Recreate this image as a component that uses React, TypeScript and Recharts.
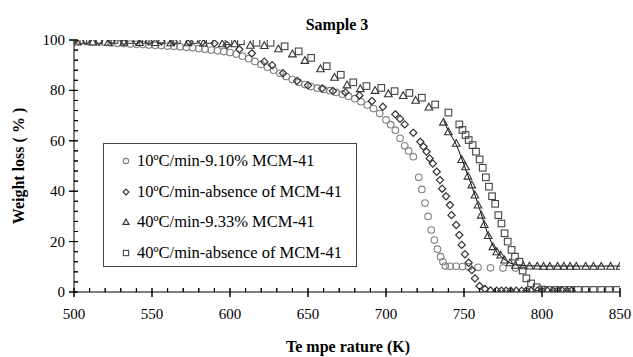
import React from 'react';
import { ComposedChart, Scatter, Line, XAxis, YAxis, Legend, Customized } from 'recharts';

// Temperature (K) and weight (%)
const circles10Mcm: [number, number][] = [
  [500,99.6],[504,99.5],[508,99.4],[512,99.2],[516,99.1],[520,99.0],[524,98.8],[528,98.7],[532,98.6],[536,98.4],
  [540,98.3],[544,98.2],[548,98.0],[552,97.9],[556,97.8],[560,97.6],[564,97.5],[568,97.3],[572,97.1],[576,96.9],
  [580,96.6],[584,96.3],[588,96.0],[592,95.7],[596,95.4],[600,95.0],[604,94.4],[608,93.6],[612,92.6],[616,91.5],
  [620,90.3],[624,89.2],[628,88.0],[632,86.8],[636,85.5],[640,84.3],[644,83.2],[648,82.3],[652,81.5],[656,80.9],
  [660,80.4],[664,79.9],[668,79.2],[672,78.5],[676,77.7],[680,76.7],[684,75.5],[688,74.2],[692,72.8],[696,70.8],
  [700,68.3],[703,66.4],[706,64.2],[709,61.0],[712,58.0],[714.5,56.0],[717.5,53.7],[721,45.5],[723,40.7],[725,35.3],
  [727,30.0],[729,24.6],[731,20.6],[733,17.0],[735,14.0],[736.5,12.0],[738,10.3],[741,10.2],[745,10.2],[749,10.1],
  [753,10.0],[759,9.8],[767,9.6],[775,9.5],[783,9.5],
];

const diamonds10Abs: [number, number][] = [
  [500,99.8],[508,99.7],[516,99.6],[524,99.6],[532,99.5],[540,99.5],[548,99.4],[556,99.4],[564,99.3],[574,99.3],
  [582,99.2],[590,98.7],[598,98.0],[606,96.3],[614,94.7],[622,91.4],[627,90.0],[634,86.8],[643,83.8],[650,82.0],
  [659,80.8],[666,79.8],[674,79.2],[683,78.0],[691,75.8],[698,73.5],[706,70.5],[709,68.7],[712,66.5],[717.5,63.2],
  [722,59.6],[724,57.7],[726,55.7],[728,53.0],[730,51.0],[732.5,47.7],[734.6,44.4],[736,41.0],[738.5,38.0],[741,34.5],
  [742,30.5],[745,26.6],[747,22.6],[748.5,18.7],[750.6,15.0],[753,11.6],[755,8.7],[757,5.4],[760,2.4],[763.5,1.2],
  [767,0.6],[771,0.5],[774,0.5],[777,0.5],[780,0.5],[783.5,0.5],[787,0.5],[790,0.5],[793,0.5],[797,0.5],
  [800,0.5],[803.5,0.5],[807,0.5],[810,0.5],[813,0.5],[816,0.5],[819,0.5],
];

const triangles40Mcm: [number, number][] = [
  [502,99.2],[512,99.2],[522,99.1],[532,99.1],[542,99.0],[552,99.0],[562,98.9],[573,98.9],[583,98.8],[595,98.5],
  [603,98.5],[613,97.9],[622,97.8],[631,96.5],[640,94.5],[648,91.9],[658,88.6],[667,85.2],[675,82.2],[683.5,80.7],
  [693,80.0],[701.5,78.7],[711,78.0],[719,76.1],[727.5,73.4],[736.8,67.4],[740,63.6],[745,59.0],[748.5,52.6],[751,49.7],
  [752.5,46.0],[755,42.5],[757,38.5],[759,34.5],[761,30.5],[763,26.8],[765.5,22.4],[768.5,18.0],[771,16.0],[773.5,14.7],
  [776,12.7],[779.5,11.6],[783,10.6],[788,10.4],[792,10.3],[797,10.3],[801,10.2],[805,10.2],[810,10.2],[814,10.2],
  [818,10.2],[822,10.2],[828,10.2],[833,10.2],[838,10.2],[844,10.2],[850,10.2],
];

const squares40Abs: [number, number][] = [
  [506,100],[516,100],[526,100],[536,100],[546,100],[556,100],[566,100],[577,100],[587,100],[599,99.5],
  [607,99.5],[617,98.9],[626,98.9],[635,97.5],[644,95.5],[652,92.9],[662,89.6],[671,86.2],[679,83.2],[687.5,81.7],
  [697,81.0],[705.5,79.7],[715,79.0],[723,77.1],[731.5,74.4],[740,71.2],[747,66.5],[749,64.3],[751,62.3],[753,60.3],
  [755.5,58.3],[757.7,55.7],[760,52.6],[762,49.3],[764,45.5],[766,41.8],[768,38.0],[770,35.0],[772,30.5],[774,27.2],
  [776,23.3],[778,20.0],[780.5,16.7],[782.7,14.0],[785.5,12.0],[787.6,8.5],[790,5.4],[793,3.4],[796.6,1.9],[800,1.0],
  [804,0.8],[809,0.8],[814,0.8],[818,0.8],[823,0.8],[828,0.8],[833,0.8],[838,0.8],[843,0.8],[848,0.8],
];

const fitLine40Mcm: [number, number][] = [
  [737,68],[740,64],[745,58.5],[750,50.5],[755,42],[760,33],[765,23.5],[770,16.8],[775,13.4],[780,11.4],
  [785,10.7],[790,10.4],[800,10.3],[850,10.3],
];

const seriesNames = [
  '10ºC/min-9.10% MCM-41',
  '10ºC/min-absence of MCM-41',
  '40ºC/min-9.33% MCM-41',
  '40ºC/min-absence of MCM-41',
];

const xTicks = [500,510,520,530,540,550,560,570,580,590,600,610,620,630,640,650,660,670,680,690,700,710,720,730,740,750,760,770,780,790,800,810,820,830,840,850];
const yTicks = [0,4,8,12,16,20,24,28,32,36,40,44,48,52,56,60,64,68,72,76,80,84,88,92,96,100];

const toRows = (pts: [number, number][]) => pts.map(([t, w]) => ({ t, w }));
const rowsC = toRows(circles10Mcm);
const rowsD = toRows(diamonds10Abs);
const rowsT = toRows(triangles40Mcm);
const rowsS = toRows(squares40Abs);
const rowsFit = toRows(fitLine40Mcm);

const FONT = '"Liberation Serif", "Times New Roman", serif';
const COLORS = ['#808080', '#333333', '#333333', '#444444'];

// chart geometry
const W = 633, H = 357;
const M = { top: 40, right: 13, bottom: 35, left: 14 };
const Y_AXIS_W = 60, X_AXIS_H = 30;
const PL = M.left + Y_AXIS_W, PR = W - M.right, PT = M.top, PB = H - M.bottom - X_AXIS_H;
const X_DOMAIN = [500, 850], Y_DOMAIN = [0, 100];

function Marker({ kind, cx, cy, s = 1 }: { kind: number; cx: number; cy: number; s?: number }) {
  const c = COLORS[kind];
  if (kind === 0) return <circle cx={cx} cy={cy} r={3.3 * s} fill="none" stroke={c} strokeWidth={1.1} />;
  if (kind === 1) {
    const h = 3.6 * s;
    return <polygon points={`${cx},${cy - h} ${cx + h},${cy} ${cx},${cy + h} ${cx - h},${cy}`} fill="none" stroke={c} strokeWidth={1.2} />;
  }
  if (kind === 2) {
    const w = 3.8 * s;
    return <polygon points={`${cx},${cy - 3.8 * s} ${cx + w},${cy + 3 * s} ${cx - w},${cy + 3 * s}`} fill="none" stroke={c} strokeWidth={1.1} />;
  }
  const h = 3.3 * s;
  return <rect x={cx - h} y={cy - h} width={2 * h} height={2 * h} fill="none" stroke={c} strokeWidth={1.1} />;
}

const makeShape = (kind: number) => (props: any) => {
  if (props.cx == null || props.cy == null) return <g />;
  return <Marker kind={kind} cx={props.cx} cy={props.cy} />;
};
const shapeC = makeShape(0);
const shapeD = makeShape(1);
const shapeT = makeShape(2);
const shapeS = makeShape(3);

const XTick = (props: any) => {
  const { x, y, payload } = props;
  const v = payload.value;
  const major = v % 50 === 0;
  return (
    <g>
      <path d={`M${x},${y - 4}L${x},${major ? y + 5 : y}`} stroke="#000" strokeWidth={1} fill="none" />
      {major && (
        <text x={x} y={y + 27} textAnchor="middle" fontFamily={FONT} fontSize={15} fill="#000">{v}</text>
      )}
    </g>
  );
};

const YTick = (props: any) => {
  const { x, y, payload } = props;
  const v = payload.value;
  const major = v % 20 === 0;
  return (
    <g>
      <path d={`M${major ? x - 5 : x},${y}L${x + 4},${y}`} stroke="#000" strokeWidth={1} fill="none" />
      {major && (
        <text x={x - 9} y={y + 5} textAnchor="end" fontFamily={FONT} fontSize={15} fill="#000">{v}</text>
      )}
    </g>
  );
};

const LegendBox = () => (
  <div style={{ width: 254, height: 124, border: '1px solid #444', boxSizing: 'border-box', background: '#fff', position: 'relative' }}>
    {seriesNames.map((name, i) => {
      const cy = 17 + i * 30.5;
      return (
        <div key={name} style={{ position: 'absolute', left: 0, top: cy - 12, height: 24, width: 250 }}>
          <svg width={30} height={24} style={{ position: 'absolute', left: 0, top: 0 }}>
            <Marker kind={i} cx={22} cy={12} s={0.8} />
          </svg>
          <span style={{ position: 'absolute', left: 33, top: 2, fontFamily: FONT, fontSize: 16.5, lineHeight: '20px', color: '#000', whiteSpace: 'nowrap' }}>{name}</span>
        </div>
      );
    })}
  </div>
);

const Texts = () => {
  const sx = (v: number) => PL + ((v - X_DOMAIN[0]) / (X_DOMAIN[1] - X_DOMAIN[0])) * (PR - PL);
  const sy = (v: number) => PB - ((v - Y_DOMAIN[0]) / (Y_DOMAIN[1] - Y_DOMAIN[0])) * (PB - PT);
  return (
    <g>
      <g stroke="#000" strokeWidth={1} fill="none">
        {xTicks.map((v) => (
          <path key={`x${v}`} d={`M${sx(v)},${PB - 4}L${sx(v)},${v % 50 === 0 ? PB + 5 : PB}`} />
        ))}
        {yTicks.map((v) => (
          <path key={`y${v}`} d={`M${v % 20 === 0 ? PL - 5 : PL},${sy(v)}L${PL + 4},${sy(v)}`} />
        ))}
      </g>
      <text x={337} y={30} textAnchor="middle" fontFamily={FONT} fontWeight="bold" fontSize={16} fill="#000">Sample  3</text>
      <text x={348} y={352} textAnchor="middle" fontFamily={FONT} fontWeight="bold" fontSize={16} fill="#000">Te mpe rature  (K)</text>
      <text x={0} y={0} transform="translate(24,166) rotate(-90)" textAnchor="middle" fontFamily={FONT} fontWeight="bold" fontSize={16} fill="#000">Weight loss ( % )</text>
    </g>
  );
};

export default function App() {
  return (
    <div style={{ position: 'absolute', left: 0, top: 0 }}>
      <ComposedChart width={W} height={H} margin={M}>
        <XAxis
          dataKey="t"
          type="number"
          domain={X_DOMAIN}
          ticks={xTicks}
          interval={0}
          tickSize={0}
          tickMargin={0}
          tick={XTick}
          axisLine={{ stroke: '#000' }}
          tickLine={false}
          height={X_AXIS_H}
          allowDataOverflow
        />
        <YAxis
          type="number"
          domain={Y_DOMAIN}
          ticks={yTicks}
          interval={0}
          tickSize={0}
          tickMargin={0}
          tick={YTick}
          axisLine={{ stroke: '#000' }}
          tickLine={false}
          width={Y_AXIS_W}
          allowDataOverflow
        />
        <Scatter name={seriesNames[0]} data={rowsC} dataKey="w" shape={shapeC} isAnimationActive={false} />
        <Scatter name={seriesNames[1]} data={rowsD} dataKey="w" shape={shapeD} isAnimationActive={false} />
        <Scatter name={seriesNames[2]} data={rowsT} dataKey="w" shape={shapeT} isAnimationActive={false} />
        <Scatter name={seriesNames[3]} data={rowsS} dataKey="w" shape={shapeS} isAnimationActive={false} />
        <Line data={rowsFit} dataKey="w" type="monotone" dot={false} stroke="#000" strokeWidth={1} isAnimationActive={false} legendType="none" />
        <Legend
          layout="horizontal"
          verticalAlign="middle"
          align="center"
          content={LegendBox}
          wrapperStyle={{ position: 'absolute', left: 103, top: 143, width: 254, height: 124 }}
        />
        <Customized component={Texts} />
      </ComposedChart>
    </div>
  );
}
